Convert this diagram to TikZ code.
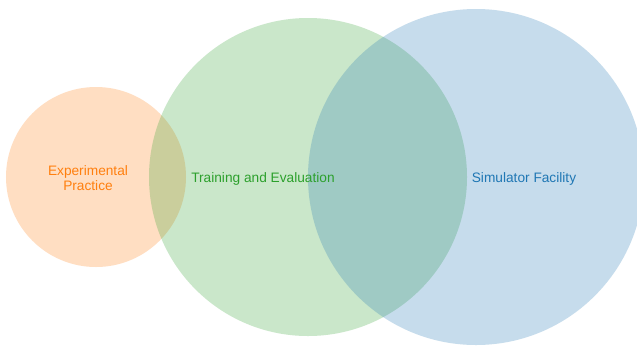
\documentclass[tikz,border=0pt]{standalone}
\usepackage{fontspec}
\setmainfont{Liberation Sans}
\definecolor{corange}{HTML}{FF7F0E}
\definecolor{cgreen}{HTML}{2CA02C}
\definecolor{cblue}{HTML}{1F77B4}
\begin{document}
\begin{tikzpicture}[x=1bp,y=-1bp,
  venn/.style={circle,inner sep=0pt,fill opacity=0.25,draw=none},
  lbl/.style={font=\fontsize{13.7bp}{15.5bp}\selectfont,align=center,inner sep=0pt}]
\clip (0,0) rectangle (637,349);
\fill[white] (0,0) rectangle (637,349);
\node[venn,fill=corange,minimum size=180bp] (exp) at (96,177) {};
\node[venn,fill=cgreen,minimum size=318bp] (train) at (308,177) {};
\node[venn,fill=cblue,minimum size=336bp] (sim) at (476,177) {};
\node[lbl,text=corange] (texp) at (88,178) {Experimental\\Practice};
\node[lbl,text=cgreen] (ttrain) at (263,179) {Training and Evaluation};
\node[lbl,text=cblue] (tsim) at (524,179) {Simulator Facility};
\end{tikzpicture}
\end{document}
